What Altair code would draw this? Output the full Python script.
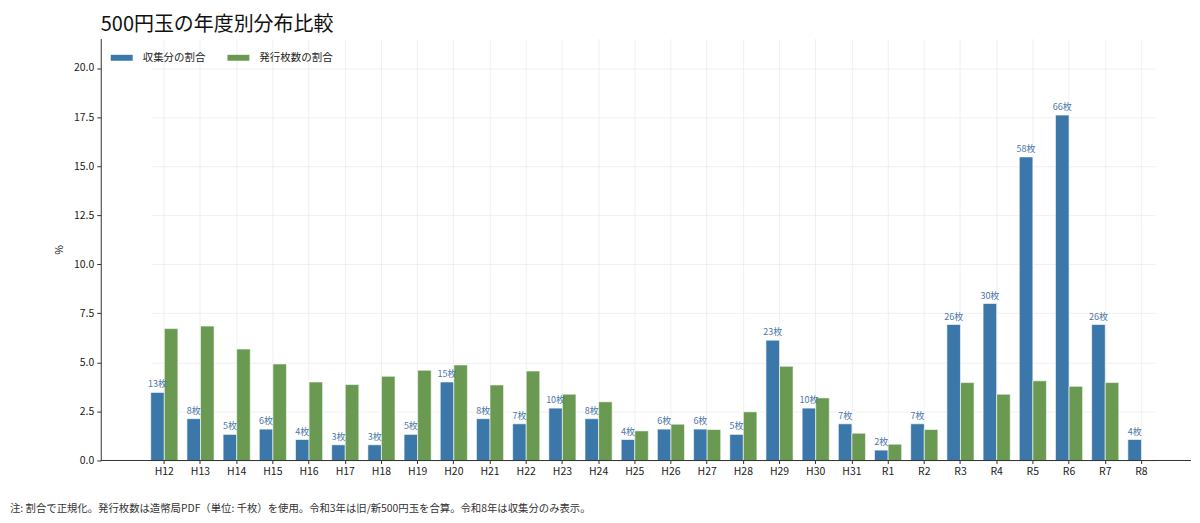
import altair as alt
import pandas as pd

years = ["H12", "H13", "H14", "H15", "H16", "H17", "H18", "H19", "H20", "H21",
         "H22", "H23", "H24", "H25", "H26", "H27", "H28", "H29", "H30", "H31",
         "R1", "R2", "R3", "R4", "R5", "R6", "R7", "R8"]
counts = [13, 8, 5, 6, 4, 3, 3, 5, 15, 8, 7, 10, 8, 4, 6, 6, 5, 23, 10, 7,
          2, 7, 26, 30, 58, 66, 26, 4]
collected_pct = [3.47, 2.13, 1.33, 1.60, 1.07, 0.80, 0.80, 1.33, 4.00, 2.13,
                 1.87, 2.67, 2.13, 1.07, 1.60, 1.60, 1.33, 6.13, 2.67, 1.87,
                 0.53, 1.87, 6.93, 8.00, 15.47, 17.60, 6.93, 1.07]
issued_pct = [6.72, 6.85, 5.68, 4.92, 4.00, 3.87, 4.29, 4.60, 4.87, 3.85,
              4.56, 3.38, 2.99, 1.51, 1.85, 1.58, 2.48, 4.80, 3.19, 1.39,
              0.83, 1.58, 3.97, 3.38, 4.06, 3.78, 3.97, None]
series = ["収集分の割合", "発行枚数の割合"]
colors = ["#3b77a8", "#6a9a51"]
title_text = "500円玉の年度別分布比較"
note_text = "注: 割合で正規化。発行枚数は造幣局PDF（単位: 千枚）を使用。令和3年は旧/新500円玉を合算。令和8年は収集分のみ表示。"

rows = []
for i, y in enumerate(years):
    rows.append({"year": y, "series": series[0], "value": collected_pct[i],
                 "label": f"{counts[i]}枚"})
    if issued_pct[i] is not None:
        rows.append({"year": y, "series": series[1], "value": issued_pct[i],
                     "label": ""})
df = pd.DataFrame(rows)

FONT = "Noto Sans CJK JP"
W, H = 1093, 423

xscale = alt.Scale(domain=years, paddingInner=0.25, paddingOuter=0, range=[50.1, 1056.9])
offscale = alt.Scale(domain=series)

base = alt.Chart(df)

bars = base.mark_bar(stroke="white", strokeWidth=0.6).encode(
    x=alt.X("year:N", scale=xscale, sort=years,
            axis=alt.Axis(title=None, labelAngle=0, grid=True, gridColor="#ececec",
                          gridWidth=0.8, domain=False, tickColor="#333333",
                          tickSize=3, labelFontSize=10.5, labelColor="#222222",
                          labelPadding=3, bandPosition=0.5)),
    xOffset=alt.XOffset("series:N", scale=offscale, sort=series),
    y=alt.Y("value:Q", scale=alt.Scale(domain=[0, 21.5], nice=False),
            axis=alt.Axis(title="%", values=[0, 2.5, 5, 7.5, 10, 12.5, 15, 17.5, 20],
                          format=".1f", grid=True, gridColor="#ececec", gridWidth=0.8,
                          domainColor="#333333", tickColor="#333333", tickSize=4,
                          labelFontSize=10.5, labelColor="#222222", titleFontSize=10.5,
                          titleFontWeight="normal", titleColor="#222222",
                          titlePadding=9, labelPadding=3)),
    color=alt.Color("series:N", scale=alt.Scale(domain=series, range=colors),
                    sort=series,
                    legend=alt.Legend(title=None, orient="none", legendX=10, legendY=8,
                                      direction="horizontal",
                                      symbolType="M-1,-0.27H1V0.27H-1Z",
                                      symbolSize=484, symbolStrokeWidth=0,
                                      labelFontSize=10.5, labelColor="#222222",
                                      labelOffset=10, columnPadding=22, padding=0)),
)

labels = base.transform_filter(alt.datum.label != "").mark_text(
    baseline="alphabetic", dy=-5, fontSize=9, color="#4a78a8", font=FONT
).encode(
    x=alt.X("year:N", scale=xscale, sort=years),
    xOffset=alt.XOffset("series:N", scale=offscale, sort=series),
    y=alt.Y("value:Q"),
    text="label:N",
)

baseline_rule = alt.Chart(pd.DataFrame({"z": [0]})).mark_rule(
    color="#333333", strokeWidth=1
).encode(y=alt.Y("z:Q"), x=alt.value(0), x2=alt.value(W))

note = alt.Chart(pd.DataFrame({"t": [note_text]})).mark_text(
    align="left", baseline="middle", fontSize=10.4, color="#333333", font=FONT
).encode(text="t:N", x=alt.value(-91), y=alt.value(472))

chart = alt.layer(bars, labels, baseline_rule, note).properties(
    width=W, height=H,
    padding={"left": 2, "top": 6, "right": 0, "bottom": 0},
    title=alt.TitleParams(title_text, anchor="start", frame="group", fontSize=20,
                          fontWeight="normal", font=FONT, color="#111111", offset=4),
).configure(font=FONT).configure_view(stroke=None).configure_axis(
    labelFont=FONT, titleFont=FONT
).configure_legend(labelFont=FONT)

chart.save("out.html", embed_options={"renderer": "svg", "actions": False})
